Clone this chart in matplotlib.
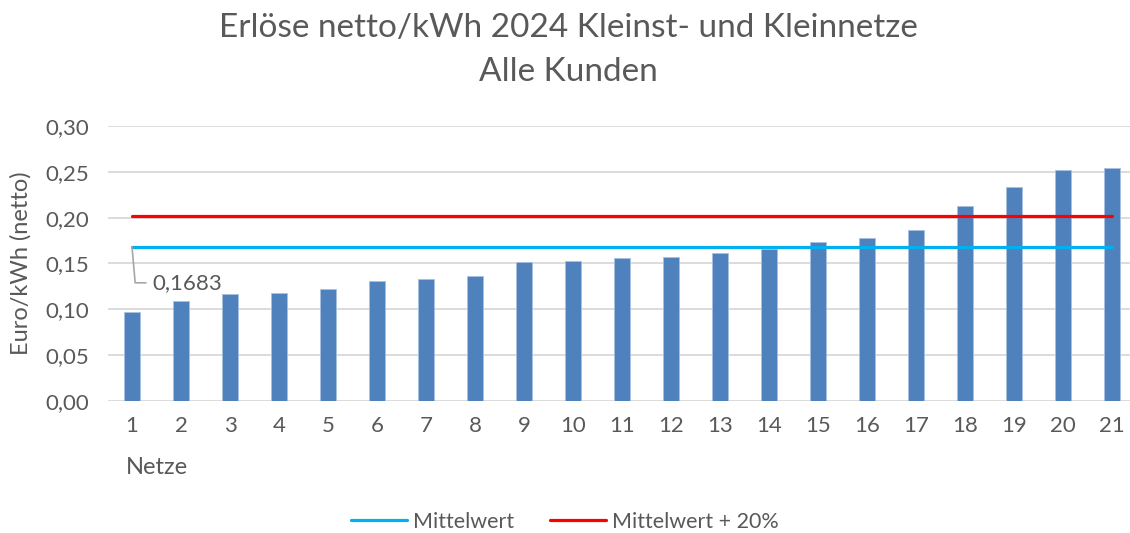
import matplotlib.pyplot as plt

plt.rcParams['font.family'] = ['Lato', 'DejaVu Sans']

# data
netze = list(range(1, 22))
erloese = [0.0971, 0.1094, 0.1167, 0.1177, 0.1221, 0.1304, 0.1330, 0.1362, 0.1514, 0.1529, 0.1558,
           0.1572, 0.1612, 0.1659, 0.1736, 0.1779, 0.1866, 0.2123, 0.2333, 0.2518, 0.2543]
mittelwert = 0.1683
mittel_plus = mittelwert * 1.2
y_ticks = [0.00, 0.05, 0.10, 0.15, 0.20, 0.25, 0.30]

grey = "#595959"

fig = plt.figure(figsize=(11.3, 5.33), dpi=100)
ax = fig.add_axes([107.5 / 1130, 132 / 533, 1029 / 1130, 275.5 / 533])

ax.bar(netze, erloese, width=0.31, color="#4F81BD", edgecolor="#A9C1E0", linewidth=0.6, zorder=2)
ax.plot([netze[0], netze[-1]], [mittelwert, mittelwert], color="#00B0F0", lw=2.3,
        solid_capstyle="round", label="Mittelwert", zorder=3)
ax.plot([netze[0], netze[-1]], [mittel_plus, mittel_plus], color="#FF0000", lw=2.3,
        solid_capstyle="round", label="Mittelwert + 20%", zorder=3)

# data label for the mean
ax.annotate("0,1683", xy=(netze[0], mittelwert), xytext=(15, -26), textcoords="offset points",
            fontsize=16, color=grey, va="center", ha="left",
            arrowprops=dict(arrowstyle="-", color="#A6A6A6", lw=1.2, shrinkA=3, shrinkB=0,
                            relpos=(0, 0.5), connectionstyle="angle,angleA=0,angleB=95,rad=0"))

ax.set_xlim(0.5, 21.5)
ax.set_ylim(0, 0.3005)
ax.set_yticks(y_ticks)
ax.set_yticklabels([f"{v:.2f}".replace(".", ",") for v in y_ticks])
ax.set_xticks(netze)
ax.tick_params(axis="both", length=0, labelsize=16, labelcolor=grey)
ax.tick_params(axis="y", pad=13)
ax.tick_params(axis="x", pad=11)
ax.yaxis.grid(True, color="#D9D9D9", lw=1.3, zorder=0)
ax.set_axisbelow(True)
for s in ax.spines.values():
    s.set_visible(False)

ax.set_ylabel("Euro/kWh (netto)", fontsize=17, color=grey, labelpad=10)
fig.text(126 / 1130, 1 - 467 / 533, "Netze", fontsize=17, color=grey, ha="left", va="center")

fig.text(568 / 1130, 1 - 28 / 533, "Erlöse netto/kWh 2024 Kleinst- und Kleinnetze",
         fontsize=24, color=grey, ha="center", va="center")
fig.text(568 / 1130, 1 - 72 / 533, "Alle Kunden", fontsize=24, color=grey, ha="center", va="center")

fig.legend(loc="center", bbox_to_anchor=(565 / 1130, 1 - 522 / 533), ncol=2, frameon=False,
           fontsize=15.5, labelcolor=grey, handlelength=2.6, handletextpad=0.25, columnspacing=1.7)

fig.savefig("out.png", dpi=100)
